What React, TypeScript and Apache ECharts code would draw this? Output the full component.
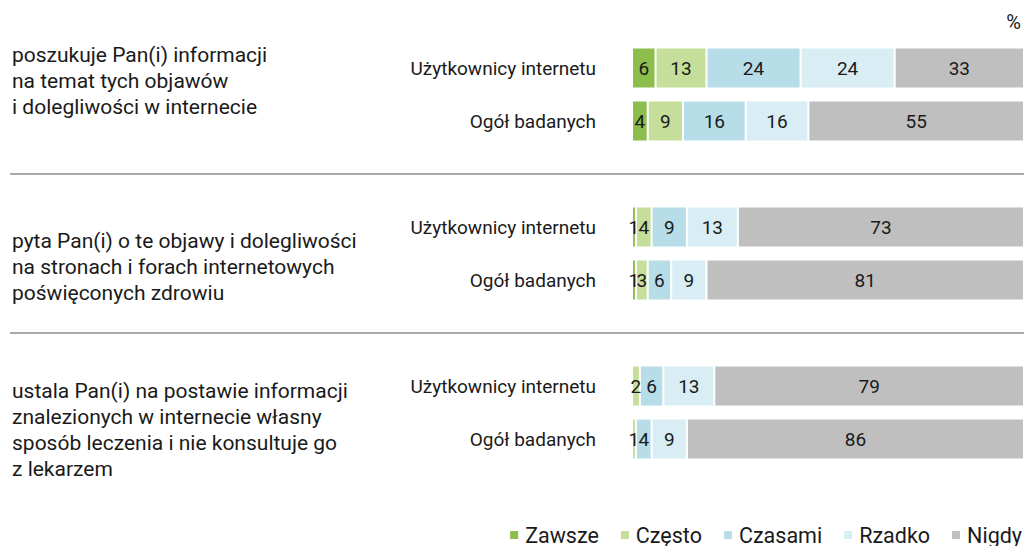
import React, { useEffect, useRef } from "react";
import * as echarts from "echarts";

const categories = [
  "Użytkownicy internetu",
  "Ogół badanych",
  "",
  "Użytkownicy internetu",
  "Ogół badanych",
  "",
  "Użytkownicy internetu",
  "Ogół badanych",
];

const groupLabels = [
  "poszukuje Pan(i) informacji\nna temat tych objawów\ni dolegliwości w internecie",
  "pyta Pan(i) o te objawy i dolegliwości\nna stronach i forach internetowych\npoświęconych zdrowiu",
  "ustala Pan(i) na postawie informacji\nznalezionych w internecie własny\nsposób leczenia i nie konsultuje go\nz lekarzem",
];

const seriesNames = ["Zawsze", "Często", "Czasami", "Rzadko", "Nigdy"];
const colors = ["#8dbd4c", "#c5df9b", "#b7dde8", "#d9eef4", "#bfbfbf"];

const zawsze = [6, 4, null, 1, 1, null, 0, 0];
const czesto = [13, 9, null, 4, 3, null, 2, 1];
const czasami = [24, 16, null, 9, 6, null, 6, 4];
const rzadko = [24, 16, null, 13, 9, null, 13, 9];
const nigdy = [33, 55, null, 73, 81, null, 79, 86];

const seriesData = [zawsze, czesto, czasami, rzadko, nigdy];

const FONT = "Roboto, 'Noto Sans', sans-serif";

export default function App() {
  const ref = useRef<HTMLDivElement>(null);
  useEffect(() => {
    document.body.style.margin = "0";
    document.body.style.overflow = "hidden";
    if (!ref.current) return;
    const chart = echarts.init(ref.current, undefined, { renderer: "svg" });
    const option: any = {
      animation: false,
      grid: { left: 632, right: 1, top: 41.5, height: 424, containLabel: false },
      legend: {
        data: seriesNames,
        right: 3,
        bottom: 0,
        padding: 0,
        icon: "rect",
        itemWidth: 10,
        itemHeight: 10,
        itemGap: 20,
        textStyle: { fontFamily: FONT, fontSize: 21.5, color: "#1a1a1a", padding: [0, 0, 0, 1] },
      },
      xAxis: { type: "value", min: 0, max: 100, show: false },
      yAxis: {
        type: "category",
        data: categories,
        inverse: true,
        axisLine: { show: false },
        axisTick: { show: false },
        axisLabel: { fontFamily: FONT, fontSize: 19, color: "#1a1a1a", margin: 36 },
      },
      series: seriesData.map((d, i) => ({
        name: seriesNames[i],
        type: "bar",
        stack: "total",
        barWidth: 41,
        data: d,
        itemStyle: { color: colors[i], borderColor: "#ffffff", borderWidth: 1 },
        label: {
          show: true,
          position: "inside",
          fontFamily: FONT,
          fontSize: 19,
          color: "#1a1a1a",
          formatter: (p: any) => (p.value ? String(p.value) : ""),
        },
        labelLayout: { hideOverlap: false },
      })),
    };
    chart.setOption(option);

    const sepY = [2, 5].map((idx) => chart.convertToPixel({ yAxisIndex: 0 }, idx) as number);
    const groupTops = [42, 228, 378];
    chart.setOption({
      graphic: [
        ...sepY.map((y) => ({
          type: "line",
          shape: { x1: 10, y1: y, x2: 1024, y2: y },
          style: { stroke: "#8c8c8c", lineWidth: 1.5 },
          silent: true,
        })),
        ...groupLabels.map((t, i) => ({
          type: "text",
          left: 12,
          top: groupTops[i],
          style: { text: t, fontFamily: FONT, fontSize: 21, lineHeight: 26, fill: "#1a1a1a" },
          silent: true,
        })),
        {
          type: "text",
          right: 4,
          top: 12,
          style: { text: "%", fontFamily: FONT, fontSize: 20, fill: "#1a1a1a" },
        },
      ],
    });
    return () => chart.dispose();
  }, []);
  return (
    <div
      ref={ref}
      style={{ position: "absolute", left: 0, top: 0, width: 1025, height: 546 }}
    />
  );
}
